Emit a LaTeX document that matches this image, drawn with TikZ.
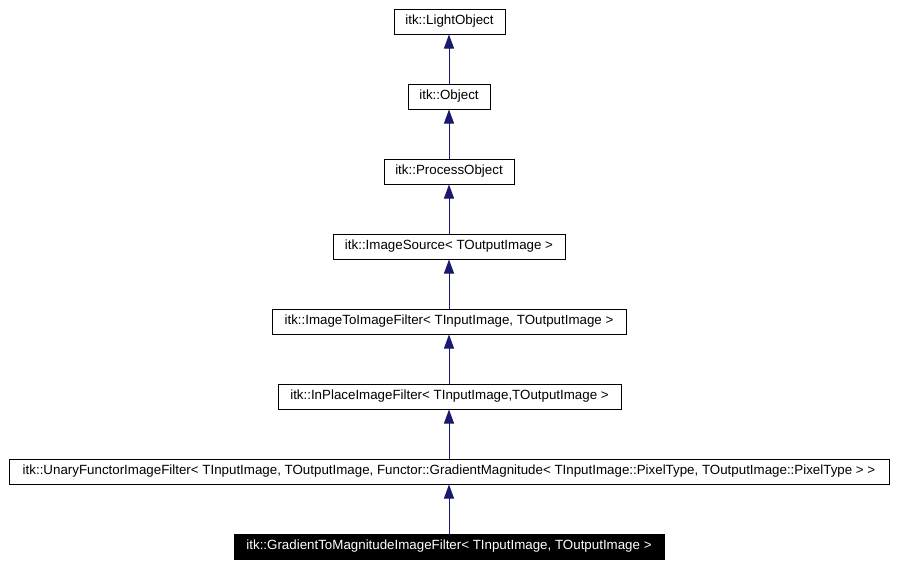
\documentclass[tikz,border=0pt]{standalone}
\usepackage{fontspec}
\setmainfont{Liberation Sans}
\usetikzlibrary{arrows.meta}
\definecolor{edgeblue}{HTML}{191970}
\begin{document}
\begin{tikzpicture}[x=0.75pt,y=-0.75pt,
  cls/.style={draw=black,line width=0.75pt,fill=white,inner sep=0pt,minimum height=18.75pt,font=\fontsize{10}{12}\selectfont},
  cur/.style={cls,fill=black,text=white},
  inh/.style={draw=edgeblue,line width=0.75pt,-{Triangle[length=10.5pt,width=7.5pt]}}]
\useasboundingbox (0,0) rectangle (898,564);
\node[cls,minimum width=83.25pt] (lo) at (449.5,21.5) {itk::LightObject};
\node[cls,minimum width=61.5pt] (ob) at (449,96.5) {itk::Object};
\node[cls,minimum width=97.5pt] (po) at (449,171.5) {itk::ProcessObject};
\node[cls,minimum width=174pt] (is) at (449,246.5) {itk::ImageSource< TOutputImage >};
\node[cls,minimum width=265.5pt] (ii) at (449,321.5) {itk::ImageToImageFilter< TInputImage, TOutputImage >};
\node[cls,minimum width=257.25pt] (ip) at (449.5,396.5) {itk::InPlaceImageFilter< TInputImage,TOutputImage >};
\node[cls,minimum width=660pt] (uf) at (449,471.5) {itk::UnaryFunctorImageFilter< TInputImage, TOutputImage, Functor::GradientMagnitude< TInputImage::PixelType, TOutputImage::PixelType > >};
\node[cur,minimum width=322.5pt] (gm) at (449,546.5) {itk::GradientToMagnitudeImageFilter< TInputImage, TOutputImage >};
\draw[inh] (ob.north) -- (ob.north |- lo.south);
\draw[inh] (po.north) -- (po.north |- ob.south);
\draw[inh] (is.north) -- (is.north |- po.south);
\draw[inh] (ii.north) -- (ii.north |- is.south);
\draw[inh] (ip.north -| ii.south) -- (ii.south);
\draw[inh] (uf.north) -- (uf.north |- ip.south);
\draw[inh] (gm.north) -- (gm.north |- uf.south);
\end{tikzpicture}
\end{document}
